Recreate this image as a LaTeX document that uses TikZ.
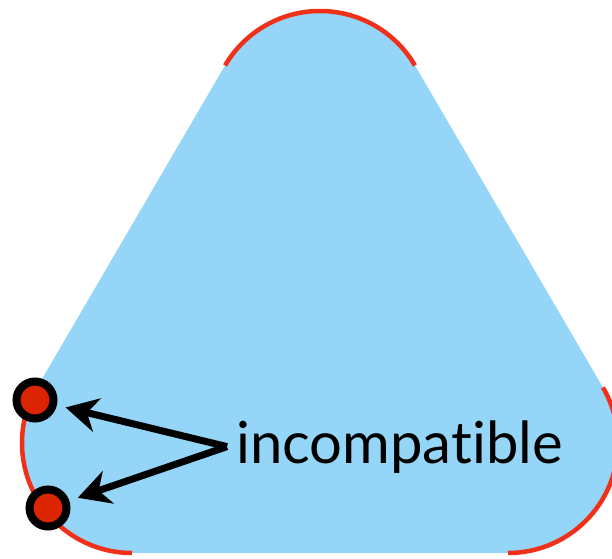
\documentclass[tikz,border=0pt]{standalone}
\usepackage{fontspec}
\newfontfamily\labelfont[Ligatures={NoCommon,NoRare,NoContextual}]{Lato}
\usetikzlibrary{arrows.meta,calc}
\definecolor{skyfill}{RGB}{149,213,248}
\definecolor{edgered}{RGB}{240,48,24}
\definecolor{dotred}{RGB}{221,36,0}
\tikzset{
  corner/.style={draw=edgered,line width=4.5pt},
  endpt/.style={circle,fill=dotred,draw=black,line width=8pt,minimum size=37pt,inner sep=0pt},
  pointer/.style={line width=7pt,-{Stealth[length=32pt,width=34pt,inset=10pt]},shorten >=9pt}
}
\begin{document}
\begin{tikzpicture}[x=1pt,y=1pt]
\clip(0,0)rectangle(612,558);
\coordinate(ctop) at (320,437);
\coordinate(cleft) at (132,115);
\coordinate(cright) at (508,115);
\fill[skyfill]($(ctop)+(30.3:110)$)arc[start angle=30.3,end angle=149.7,radius=110]
  --($(cleft)+(149.7:110)$)arc[start angle=149.7,end angle=270,radius=110]
  --($(cright)+(270:110)$)arc[start angle=270,end angle=390.3,radius=110]--cycle;
\draw[corner]($(ctop)+(30.3:110)$)arc[start angle=30.3,end angle=149.7,radius=110];
\draw[corner]($(cleft)+(149.7:110)$)arc[start angle=149.7,end angle=270,radius=110];
\draw[corner]($(cright)+(270:110)$)arc[start angle=270,end angle=390.3,radius=110];
\node[endpt](dotA) at (35,158){};
\node[endpt](dotB) at (48,50){};
\node[anchor=base west,inner sep=0pt](label) at (236,95){\labelfont\fontsize{58}{62}\selectfont incompat\kern0pt ible};
\coordinate(src) at ([xshift=-9pt]label.west);
\draw[pointer](src)--(dotA);
\draw[pointer](src)--(dotB);
\end{tikzpicture}
\end{document}
